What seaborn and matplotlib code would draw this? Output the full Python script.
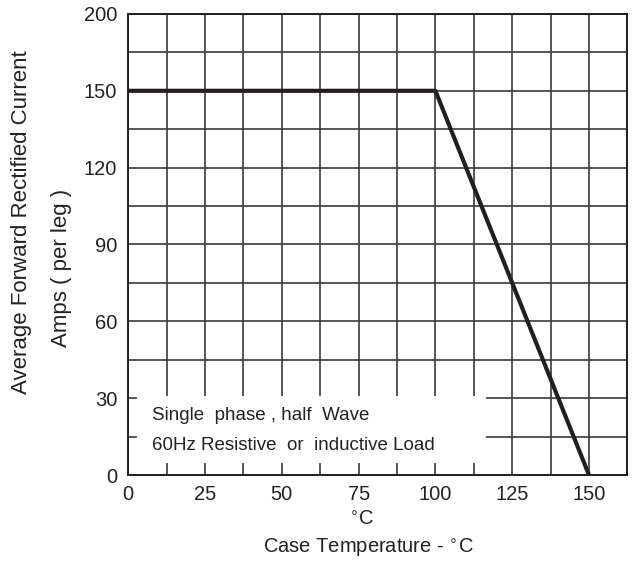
import numpy as np
import pandas as pd
import matplotlib
matplotlib.use("Agg")
import matplotlib.pyplot as plt
from matplotlib.patches import Rectangle
import seaborn as sns

# ---- data ----
temp_c = [0, 100, 150]
current_a = [150, 150, 0]
x_ticks = [0, 25, 50, 75, 100, 125, 150]
y_ticks = [0, 30, 60, 90, 120, 150, 200]
x_minor = [12.5, 37.5, 62.5, 87.5, 112.5, 137.5, 162.5]
y_minor = [15, 45, 75, 105, 135, 175]
note_lines = ["Single  phase , half  Wave", "60Hz Resistive  or  inductive Load"]

sns.set_theme(style="white")
plt.rcParams["font.family"] = ["Liberation Sans", "DejaVu Sans"]

INK = "#231f20"
GRID = "#3a3a3a"
TXT = "#222222"

def fwd(y):
    y = np.asarray(y, dtype=float)
    return np.where(y <= 150, y, 150 + (y - 150) * 0.6)

def inv(t):
    t = np.asarray(t, dtype=float)
    return np.where(t <= 150, t, 150 + (t - 150) / 0.6)

fig = plt.figure(figsize=(6.35, 5.68), dpi=100)
ax = fig.add_axes([0.202, 0.1637, 0.786, 0.8117])
ax.set_yscale("function", functions=(fwd, inv))

df = pd.DataFrame({"temp": temp_c, "current": current_a})
sns.lineplot(data=df, x="temp", y="current", ax=ax, color=INK, linewidth=3.0,
             sort=False, zorder=4)

ax.set_xlim(0, 162.5)
ax.set_ylim(0, 200)
ax.set_xticks(x_ticks)
ax.set_xticklabels([str(v) for v in x_ticks])
ax.set_xticks(x_minor, minor=True)
ax.set_yticks(y_ticks)
ax.set_yticklabels([str(v) for v in y_ticks])
ax.set_yticks(y_minor, minor=True)
ax.yaxis.set_minor_formatter(matplotlib.ticker.NullFormatter())
ax.xaxis.set_minor_formatter(matplotlib.ticker.NullFormatter())

ax.set_axisbelow(True)
ax.grid(True, which="both", color=GRID, linewidth=1.2)
ax.tick_params(axis="both", which="both", length=0, labelsize=14.5, colors=TXT)
ax.tick_params(axis="x", pad=7)
ax.tick_params(axis="y", pad=8)
for s in ax.spines.values():
    s.set_color(INK)
    s.set_linewidth(1.4)

ax.set_xlabel("")
ax.set_ylabel("")

# white note box
ax.add_patch(Rectangle((0.0174, 0.026), 0.699, 0.145, transform=ax.transAxes,
                       facecolor="white", edgecolor="none", zorder=2.5))
ax.text(0.047, 0.130, note_lines[0], transform=ax.transAxes, fontsize=13.5,
        va="center", ha="left", color=TXT, zorder=3)
ax.text(0.047, 0.065, note_lines[1], transform=ax.transAxes, fontsize=13.5,
        va="center", ha="left", color=TXT, zorder=3)

# axis titles
fig.text(0.0346, 0.609, "Average Forward Rectified Current", rotation=90,
         ha="center", va="center", fontsize=16, color=TXT)
fig.text(0.0976, 0.528, "Amps ( per leg )", rotation=90,
         ha="center", va="center", fontsize=16, color=TXT)
fig.text(0.570, 0.085, r"$^{\circ}$C", ha="center", va="center", fontsize=14.5,
         color=TXT)
fig.text(0.580, 0.035, r"Case Temperature - $^{\circ}$C", ha="center", va="center",
         fontsize=14.5, color=TXT)

fig.savefig("out.png", dpi=100, facecolor="white")
